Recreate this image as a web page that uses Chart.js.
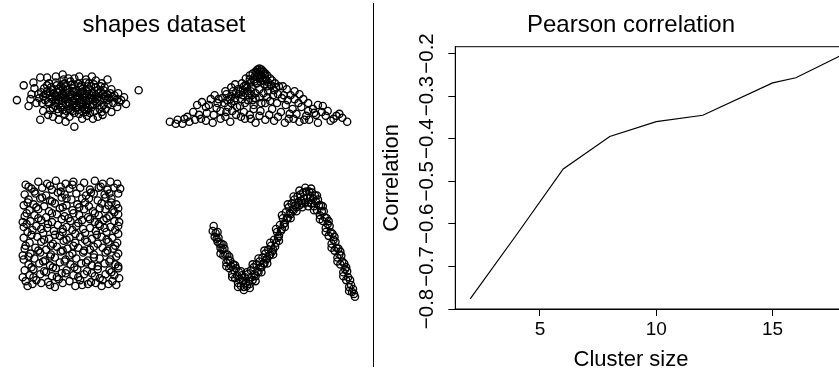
<!DOCTYPE html>
<html>
<head>
<meta charset="utf-8">
<script src="https://cdn.jsdelivr.net/npm/chart.js@4.4.1/dist/chart.umd.min.js"></script>
<style>
  html, body { margin: 0; padding: 0; background: #fff; overflow: hidden; }
  body { width: 839px; height: 374px; position: relative; }
  canvas { position: absolute; top: 0; }
  #shapes { left: -44px; }
  #pearson { left: 374px; }
  #divider { position: absolute; left: 373px; top: 3px; width: 1px; height: 364px; background: #000; }
</style>
</head>
<body>
<canvas id="shapes" width="416" height="374"></canvas>
<canvas id="pearson" width="514" height="374"></canvas>
<div id="divider"></div>
<script>
// --- left panel: the four shapes (page pixel units) ---
const blob = [
  [13,101],[20,86],[25,107],[30,83],[37,78],[44,78],[60,75],[77,77],[90,77],[100,84],[110,90],[117,94],
  [123,98],[138,91],[116,108],[110,113],[101,116],[91,120],[80,120],[72,128],[63,123],[50,118],[37,121],
  [33,104],[28,95],[118,103],[96,118],[85,117],[45,116],[56,121],[67,118],[31,89],[36,99],[106,80],
  [66,79],[53,77],[112,104],[125,105],[104,110],[40,112],
  [46,84],[53,83],[61,85],[68,82],[76,84],[84,83],[92,85],[99,87],
  [41,89],[48,88],[56,90],[63,87],[70,89],[78,88],[86,90],[94,88],[102,91],
  [38,93],[44,92],[51,94],[57,92],[64,94],[71,92],[78,94],[85,92],[92,94],[99,92],[106,95],
  [40,97],[47,96],[54,98],[61,96],[68,98],[75,96],[82,98],[89,96],[96,98],[104,97],[111,98],
  [42,101],[49,100],[56,102],[63,100],[70,102],[77,100],[84,102],[91,100],[98,102],[106,101],
  [46,105],[53,104],[60,106],[67,104],[74,106],[81,104],[88,106],[95,104],[102,106],
  [50,109],[58,108],[66,110],[74,108],[82,110],[90,108],[98,110],
  [56,113],[64,112],[72,114],[80,112],[88,114],
  [60,89],[74,91],[88,99],[58,98],[72,104],[80,95],[66,107],[52,96],[94,96],[84,108],
  [44,86],[50,91],[58,87],[65,91],[72,86],[80,90],[89,87],[96,91],[103,88],[43,95],[49,98],[55,93],
  [62,99],[69,95],[76,99],[83,94],[90,99],[97,94],[103,100],[109,94],[45,103],[52,107],[59,102],
  [66,103],[73,109],[79,103],[86,109],[93,102],[100,108],[107,105],[55,110],[62,115],[70,112],
  [77,115],[85,111],[93,112],[61,80],[72,79],[84,80],[94,81],[35,95],[39,104],[113,96],[116,100],
  [120,101],[27,100],[100,113],[47,111],
  [54,86],[62,84],[70,85],[79,86],[87,84],[59,95],[67,93],[74,97],[81,92],[87,95],[95,100],
  [63,105],[70,106],[77,104],[84,105],[91,106],[60,111],[68,111],[76,111],[84,113],[53,101],
  [47,93],[101,95],[108,99],[66,96],[73,100],[80,101],[87,102]
];
const triangle = [
  [170,123],[183,125],[185,120],[188,118],[196,121],[207,122],[214,124],[222,120],[232,123],[247,120],
  [258,124],[268,121],[277,122],[288,124],[297,120],[303,123],[313,121],[322,124],[335,122],[341,117],
  [347,119],[352,123],[330,117],[318,114],[310,117],[194,113],[200,116],[215,116],[227,118],[238,116],
  [203,103],[207,108],[212,100],[216,96],[219,104],[224,99],[227,92],[230,108],[233,97],[236,102],
  [240,90],[242,107],[245,96],[248,86],[250,101],[253,92],[256,110],[258,99],[198,106],[222,112],
  [234,112],[246,113],[252,116],
  [244,84],[248,79],[252,76],[255,74],[258,72],[260,70],[262,69],[264,70],[266,72],[268,74],[270,76],
  [273,79],[256,80],[260,77],[264,76],[268,79],[259,84],[263,82],[267,85],[271,83],[275,81],[254,88],
  [250,92],[278,84],[282,87],[286,87],[262,90],[266,94],[258,94],[271,92],
  [290,90],[294,96],[298,92],[303,95],[307,100],[312,104],[317,110],[322,106],[327,107],[332,112],
  [285,99],[280,104],[276,96],[289,106],[296,110],[302,104],[275,110],[268,104],[284,113],[293,115],
  [263,112],[272,116],[233,88],[237,85],[228,95],[220,100],[210,106],[226,104],
  [257,77],[261,74],[265,78],[269,81],[253,83],[249,88],[245,91],[241,95],[237,99],[233,104],
  [229,101],[239,108],[247,104],[255,101],[262,98],[270,98],[277,91],[281,95],[287,96],[291,101],
  [298,100],[305,108],[312,112],[320,116],[326,113],[338,120],[344,115],[228,113],[218,109],[208,114],
  [202,120],[190,123],[178,121],[176,125],[243,118],[253,120],[262,117],[281,118],[292,120],[300,115],
  [308,121],[256,106],[264,104],[273,102],
  [259,73],[263,72],[267,75],[262,79],[257,82],[266,81],[270,87],[274,86],[252,80],[246,87],
  [242,92],[238,94],[235,92],[232,100],[244,100],[250,96],[254,96],[279,88]
];
const square = [
  [22,187],[35,184],[44,186],[53,183],[63,186],[71,184],[82,185],[93,183],[101,186],[109,184],[116,186],
  [28,191],[39,190],[49,192],[58,189],[67,191],[78,190],[88,192],[97,190],[106,192],[113,190],
  [21,197],[32,196],[43,198],[55,195],[62,197],[74,196],[84,198],[92,196],[103,197],[117,196],
  [25,202],[37,201],[47,203],[59,200],[69,202],[80,201],[96,203],[110,201],
  [20,208],[30,207],[41,209],[52,206],[64,208],[75,207],[87,209],[100,206],[107,208],[115,207],
  [26,213],[35,212],[46,214],[57,211],[70,213],[82,212],[91,214],[104,212],[112,213],
  [21,219],[31,218],[43,220],[54,217],[62,219],[77,218],[86,220],[97,218],[108,219],[117,217],
  [27,224],[38,223],[49,225],[59,222],[68,224],[80,223],[93,225],[102,223],[113,224],
  [20,230],[33,229],[44,231],[55,228],[64,230],[74,229],[88,231],[98,229],[109,230],[117,229],
  [24,235],[29,233],[40,236],[51,234],[60,235],[70,233],[83,236],[94,234],[105,235],[114,233],
  [20,241],[34,240],[46,242],[57,239],[67,241],[78,240],[90,242],[100,240],[111,241],
  [26,246],[38,245],[50,247],[61,244],[73,246],[85,245],[96,247],[107,245],[116,246],
  [21,252],[32,251],[43,253],[54,250],[65,252],[76,251],[88,253],[101,251],[112,252],
  [27,257],[37,256],[48,258],[58,255],[70,257],[81,256],[92,258],[104,256],[117,257],
  [20,263],[31,262],[42,264],[52,261],[63,263],[74,262],[86,264],[98,262],[109,263],
  [25,268],[36,267],[47,269],[57,266],[68,268],[79,267],[90,269],[103,267],[114,268],
  [21,274],[30,273],[41,275],[53,272],[64,274],[75,273],[85,275],[96,273],[108,274],[117,272],
  [26,279],[37,278],[49,280],[59,277],[71,279],[82,278],[93,280],[104,278],[113,279],
  [22,285],[33,284],[45,286],[56,283],[67,285],[78,284],[89,286],[101,284],[111,285],
  [24,290],[29,288],[47,289],[52,291],[73,290],[80,289],[86,288],[100,290],[115,289],
  [25,189],[47,188],[70,187],[99,189],[119,191],[31,194],[58,194],[89,195],[108,196],
  [39,200],[64,201],[87,201],[104,200],[24,205],[49,204],[83,205],[110,205],
  [33,210],[60,210],[77,210],[98,211],[117,211],[23,216],[49,216],[71,216],[93,216],[113,215],
  [35,221],[66,221],[88,222],[105,221],[23,227],[45,227],[76,226],[97,227],[118,225],
  [38,232],[60,232],[81,232],[103,231],[28,238],[52,238],[73,237],[95,238],[117,237],
  [41,243],[64,243],[83,243],[105,243],[22,249],[48,249],[71,249],[92,250],[114,249],
  [35,254],[60,254],[82,254],[106,254],[25,260],[47,260],[67,259],[92,261],[115,260],
  [40,265],[62,265],[84,266],[108,265],[28,271],[50,271],[72,271],[96,270],[117,270],
  [43,276],[63,277],[90,277],[110,276],[30,281],[54,281],[76,281],[98,282],[118,282],
  [38,287],[60,287],[94,287],[107,288],[19,281],[19,259],[19,225]
];
const wave = [
  [215,229],[214,234],[217,236],[218,242],[216,240],[220,241],[221,247],[219,245],[223,247],[224,253],
  [222,251],[226,252],[227,258],[225,259],[229,258],[230,264],[228,266],[232,264],[233,270],[231,272],
  [235,268],[236,274],[234,278],[238,272],[239,279],[237,282],[241,276],[242,283],[240,287],[244,279],
  [245,285],[243,290],[247,281],[248,287],[246,291],[250,278],[251,285],[249,290],[253,274],[254,281],
  [252,288],[256,271],[257,278],[255,284],[259,268],[260,275],[258,280],[262,265],[263,271],[261,276],
  [265,261],[266,267],[264,271],[268,257],[269,263],[267,267],[271,253],[272,259],[270,262],[274,249],
  [275,255],[273,258],[277,243],[278,250],[276,253],[280,235],[281,241],[279,246],[283,228],[284,234],
  [282,239],[286,221],[287,227],[285,232],[289,215],[290,221],[288,226],[292,210],[293,216],[291,221],
  [295,206],[296,212],[294,217],[298,202],[299,208],[297,213],[301,199],[302,205],[300,210],[304,197],
  [305,203],[303,208],[307,195],[308,201],[306,206],[310,194],[311,200],[309,205],[313,194],[314,200],
  [312,205],[316,195],[317,201],[315,206],[319,198],[320,204],[318,209],[322,202],[323,208],[321,213],
  [325,208],[326,214],[324,218],[328,214],[329,220],[327,224],[331,221],[332,227],[330,231],[334,229],
  [335,235],[333,239],[337,237],[338,243],[336,247],[340,245],[341,251],[339,254],[343,252],[344,258],
  [342,261],[346,259],[347,265],[345,268],[349,267],[350,273],[348,276],[352,275],[353,281],[351,284],
  [355,284],[356,289],[354,291],[358,293],[359,298],[357,296],[360,301],
  [219,235],[225,248],[231,260],[237,269],[243,275],[249,276],[255,268],[261,262],[267,254],[273,246],
  [279,232],[285,218],[291,207],[297,199],[303,193],[309,190],[315,191],[321,198],[327,209],[333,224],
  [339,240],[345,255],[351,271],
  [222,257],[228,270],[234,281],[240,291],[246,294],[252,292],[258,285],[264,276],[270,267],[276,258],
  [282,244],[288,230],[294,221],[300,214],[306,210],[312,209],[318,213],[324,222],[330,235],[336,251],
  [342,265],[348,280],[354,295]
];

// --- right panel: Pearson correlation by cluster size ---
const clusterSize = [2, 4, 6, 8, 10, 12, 15, 16, 18];
const correlation = [-0.776, -0.625, -0.471, -0.395, -0.360, -0.345, -0.269, -0.257, -0.203];
const xTicks = [5, 10, 15];
const yTicks = [-0.8, -0.7, -0.6, -0.5, -0.4, -0.3, -0.2];

Chart.defaults.font.family = '"Liberation Sans", Arial, Helvetica, sans-serif';
Chart.defaults.color = '#000';

const toXY = pts => pts.map(p => ({ x: p[0], y: p[1] }));

new Chart(document.getElementById('shapes'), {
    type: 'scatter',
    data: {
        datasets: [blob, triangle, square, wave].map(pts => ({
            data: toXY(pts),
            pointRadius: 3.6,
            pointBorderWidth: 1.35,
            pointBorderColor: '#000',
            pointBackgroundColor: 'rgba(0,0,0,0)'
        }))
    },
    options: {
        responsive: false,
        animation: false,
        events: [],
        layout: { padding: 0 },
        plugins: {
            legend: { display: false },
            tooltip: { enabled: false },
            title: {
                display: true,
                text: 'shapes dataset',
                color: '#000',
                font: { size: 24, weight: 'normal' },
                padding: { top: 10.6, bottom: 7.3 }
            }
        },
        scales: {
            x: { type: 'linear', display: false, min: -44, max: 372 },
            y: { type: 'linear', display: false, reverse: true, min: 46.7, max: 374 }
        }
    }
});

// frame round the plot area (its right edge falls outside the window)
const plotFrame = {
    id: 'plotFrame',
    afterDraw(chart) {
        const a = chart.chartArea, ctx = chart.ctx;
        ctx.save();
        ctx.strokeStyle = '#000';
        ctx.lineWidth = 1;
        ctx.strokeRect(a.left, a.top, a.right - a.left, a.bottom - a.top);
        ctx.restore();
    }
};

new Chart(document.getElementById('pearson'), {
    type: 'line',
    data: {
        datasets: [{
            data: clusterSize.map((x, i) => ({ x: x, y: correlation[i] })),
            borderColor: '#000',
            borderWidth: 1.2,
            pointRadius: 0,
            tension: 0,
            fill: false
        }]
    },
    plugins: [plotFrame],
    options: {
        responsive: false,
        animation: false,
        events: [],
        layout: { padding: 0 },
        plugins: {
            legend: { display: false },
            tooltip: { enabled: false },
            title: {
                display: true,
                text: 'Pearson correlation',
                color: '#000',
                font: { size: 24, weight: 'normal' },
                padding: { top: 10.6, bottom: 7.3 }
            },
            subtitle: {
                display: true,
                position: 'bottom',
                text: 'Cluster size',
                color: '#000',
                font: { size: 22, weight: 'normal' },
                padding: { top: 2.8, bottom: 0.8 }
            }
        },
        scales: {
            x: {
                type: 'linear',
                min: 1.36,
                max: 18.64,
                afterBuildTicks: s => { s.ticks = xTicks.map(v => ({ value: v })); },
                afterFit: s => { s.height = 35; },
                grid: { drawOnChartArea: false, drawTicks: true, tickLength: 7, color: '#000' },
                border: { display: true, color: '#000', width: 1 },
                ticks: { color: '#000', font: { size: 19 }, padding: 2, autoSkip: false, maxRotation: 0 }
            },
            y: {
                type: 'linear',
                min: -0.8,
                max: -0.184,
                afterBuildTicks: s => { s.ticks = yTicks.map(v => ({ value: v })); },
                afterFit: s => { s.width = 81.3; },
                grid: { drawOnChartArea: false, drawTicks: true, tickLength: 7, color: '#000' },
                border: { display: true, color: '#000', width: 1 },
                ticks: {
                    color: '#000',
                    font: { size: 20.5 },
                    padding: 1,
                    autoSkip: false,
                    minRotation: 90,
                    maxRotation: 90,
                    crossAlign: 'center',
                    callback: v => v.toFixed(1).replace('-', '\u2212')
                },
                title: {
                    display: true,
                    text: 'Correlation',
                    color: '#000',
                    font: { size: 22 },
                    padding: { top: 4.5, bottom: 0 }
                }
            },
            y2: {
                type: 'linear',
                position: 'right',
                afterFit: s => { s.width = 30.7; },
                ticks: { display: false },
                grid: { display: false },
                border: { display: false }
            }
        }
    }
});
</script>
</body>
</html>
